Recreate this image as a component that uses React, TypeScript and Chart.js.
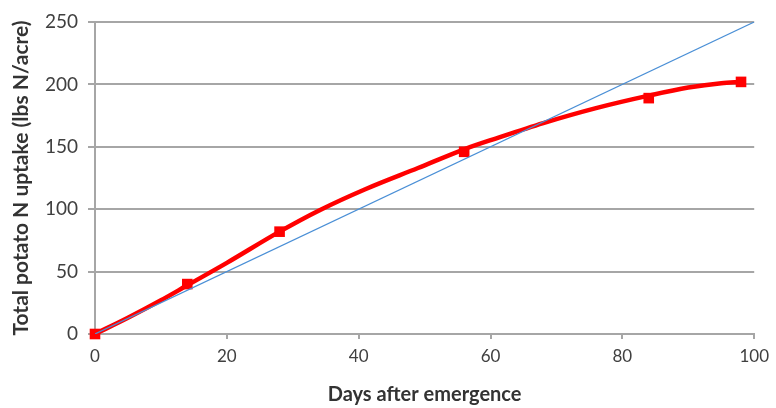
import React, { useEffect, useRef } from "react";
import { Chart, registerables } from "chart.js";

Chart.register(...registerables);

const measuredDays = [0, 14, 28, 56, 84, 98];
const measuredUptake = [0, 40, 82, 146, 189, 202];

const trendDays = [0, 5, 10, 14, 20, 28, 34, 41, 49, 56, 61, 68, 76, 84, 90, 95, 98];
const trendUptake = [0, 13, 27, 39, 57, 82, 99, 116, 133, 148, 157, 169, 181, 191, 197.5, 201, 202];

const refDays = [0, 100];
const refUptake = [0, 250];

const xTitle = "Days after emergence";
const yTitle = "Total potato N uptake (lbs N/acre)";

export default function App() {
  const ref = useRef<HTMLCanvasElement | null>(null);
  useEffect(() => {
    document.body.style.margin = "0";
    const font = "Lato, 'Open Sans', sans-serif";
    const chart = new Chart(ref.current!, {
      type: "scatter",
      data: {
        datasets: [
          {
            label: "ref",
            data: refDays.map((x, i) => ({ x, y: refUptake[i] })),
            showLine: true,
            borderColor: "#4a8fd6",
            borderWidth: 1.2,
            pointRadius: 0,
            order: 0,
          },
          {
            label: "trend",
            data: trendDays.map((x, i) => ({ x, y: trendUptake[i] })),
            showLine: true,
            borderColor: "#ff0000",
            borderWidth: 4.5,
            pointRadius: 0,
            cubicInterpolationMode: "monotone",
            order: 1,
          },
          {
            label: "measured",
            data: measuredDays.map((x, i) => ({ x, y: measuredUptake[i] })),
            showLine: false,
            backgroundColor: "#ff0000",
            borderColor: "#ff0000",
            pointStyle: "rect",
            pointRadius: 7.5,
            borderWidth: 0,
            clip: false,
            order: 2,
          },
        ],
      },
      options: {
        animation: false,
        responsive: false,
        maintainAspectRatio: false,
        layout: { padding: { top: 22, right: 20, left: 0, bottom: 0 } },
        plugins: { legend: { display: false }, tooltip: { enabled: false } },
        scales: {
          x: {
            type: "linear",
            min: 0,
            max: 100,
            ticks: { stepSize: 20, color: "#404040", font: { family: font, size: 17 }, padding: 7, maxRotation: 0 },
            grid: { drawOnChartArea: false, drawTicks: true, tickLength: 5, color: "#a6a6a6", lineWidth: 2 },
            border: { color: "#a6a6a6", width: 2 },
            title: { display: true, text: xTitle, color: "#333333", font: { family: font, size: 20, weight: "bold" }, padding: { top: 4, bottom: 1 } },
            afterFit: (s: any) => { s.height = 74; },
          },
          y: {
            min: 0,
            max: 250,
            ticks: { stepSize: 50, color: "#404040", font: { family: font, size: 19 }, padding: 10 },
            grid: { color: "#a6a6a6", lineWidth: 2, tickLength: 7, drawTicks: true },
            border: { color: "#a6a6a6", width: 2 },
            title: { display: true, text: yTitle, color: "#333333", font: { family: font, size: 21, weight: "bold" }, padding: { top: 9, bottom: 2 } },
            afterFit: (s: any) => { s.width = 95; },
          },
        },
      },
    } as any);
    return () => chart.destroy();
  }, []);
  return (
    <div style={{ width: 776, height: 408 }}>
      <canvas ref={ref} width={776} height={408} style={{ display: "block" }} />
    </div>
  );
}
